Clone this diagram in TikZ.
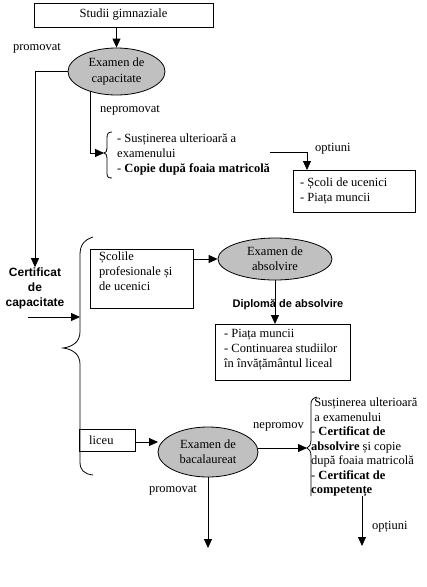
\documentclass[tikz,border=0pt]{standalone}
\usepackage{fontspec}
\setmainfont{Liberation Serif}
\newfontfamily\arialf{Liberation Sans}
\usetikzlibrary{shapes.geometric,arrows.meta,calc}
\definecolor{ellgray}{RGB}{192,192,192}
\tikzset{
  arr/.style={-{Triangle[length=9pt,width=8pt]}, line width=0.8pt},
  ln/.style={line width=0.8pt},
  rectbox/.style={draw, line width=0.8pt, inner sep=0pt},
  ell/.style={ellipse, draw, line width=0.8pt, fill=ellgray, inner sep=0pt, align=center},
  txt/.style={inner sep=0pt, align=left},
  lbl/.style={inner sep=0pt},
  bl/.style={inner sep=0pt, align=center, font=\arialf\bfseries\fontsize{11}{15}\selectfont},
}
\begin{document}
\begin{tikzpicture}[x=1pt,y=-1pt,font=\fontsize{12.5}{15}\selectfont]
\useasboundingbox (0,0) rectangle (427,587);
% top
\node[rectbox, minimum width=179, minimum height=24] (studii) at (123.5,15) {Studii gimnaziale};
\node[ell, minimum width=97, minimum height=47] (excap) at (116.5,71.5) {Examen de\\[1pt]capacitate};
\draw[arr] (studii.south -| excap.north) -- (excap.north);
\node[lbl] (lprom1) at (37,48) {promovat};
\node[bl, font=\arialf\bfseries\fontsize{12}{15}\selectfont] (cert) at (35,288) {Certificat\\de\\capacitate};
\draw[arr] (excap.west) -| (cert.north);
\node[lbl, anchor=west] (lneprom1) at (100,110) {nepromovat};
% brace 1
\coordinate (b1tip) at (104,153);
\coordinate (a1) at (90,91.2);
\draw[arr] (a1) |- (b1tip);
\draw[ln] (112,132) .. controls (108,132) and (107,134) .. (107,138) -- (107,148)
  .. controls (107,151) and (106,153) .. (104,153) .. controls (106,153) and (107,155) .. (107,158)
  -- (107,173) .. controls (107,177) and (108,178) .. (112,178);
\node[txt, anchor=north west] (t1) at (117,134) {- Susținerea ulterioară a\\ examenului\\- \textbf{Copie după foaia matricolă}};
\node[rectbox, minimum width=122, minimum height=42, anchor=north west] (box1) at (293,170) {};
\node[txt, anchor=west] (box1t) at (300,191) {- Școli de ucenici\\- Piața muncii};
\coordinate (o1s) at (270,152);
\draw[arr] (o1s) -| ($(box1.north west)+(14,0)$);
\node[lbl, anchor=west] (lopt1) at (315,149) {optiuni};
% big brace
\draw[ln] (93,237) .. controls (84,240) and (80,245) .. (80,255) -- (80,332)
  .. controls (80,342) and (72,347) .. (63,348) .. controls (72,349) and (80,354) .. (80,364)
  -- (80,462) .. controls (80,470) and (84,474) .. (93,475);
\coordinate (inarr) at (28,317);
\coordinate (inarrtip) at (80,317);
\draw[arr] (inarr) -- (inarrtip);
% school branch
\node[rectbox, minimum width=103, minimum height=59, anchor=north west] (school) at (90,249) {};
\node[txt, anchor=north west] (schoolt) at (99,252) {Școlile\\profesionale și\\de ucenici};
\node[ell, minimum width=114, minimum height=42] (absolv) at (275,259) {Examen de\\absolvire};
\draw[arr] (absolv.west -| school.east) -- (absolv.west);
\node[rectbox, minimum width=135, minimum height=56, anchor=north west] (piata) at (215,324) {};
\node[txt, anchor=north west] (piatat) at (224,329) {- Piața muncii\\- Continuarea studiilor\\în învățământul liceal};
\draw[arr] (absolv.south) -- (absolv.south |- piata.north);
\node[bl] (dipl) at (288,305) {Diplomă de absolvire};
% liceu branch
\node[rectbox, minimum width=56, minimum height=22, anchor=north west] (liceu) at (79,429) {};
\node[lbl, anchor=west] (liceut) at (89,440) {liceu};
\node[ell, minimum width=100, minimum height=50] (bac) at (208,452) {Examen de\\bacalaureat};
\draw[arr] (liceu.east |- 0,442) -- (158,442);
\node[lbl, anchor=west] (lneprom2) at (253,427) {nepromov};
\coordinate (b2tip) at (307,448);
\draw[arr] (bac.east |- b2tip) -- (b2tip);
% brace 2
\draw[ln] (317,397) .. controls (313,398) and (311,400) .. (311,404) -- (311,440)
  .. controls (311,445) and (309,447) .. (307,448) .. controls (309,449) and (311,451) .. (311,456)
  -- (311,496);
\node[txt, anchor=north west, font=\fontsize{12.5}{14.5}\selectfont] (t2) at (311,398)
  {~Susținerea ulterioară\\ ~a examenului\\- \textbf{Certificat de}\\\textbf{absolvire} și copie\\după foaia matricolă\\- \textbf{Certificat de}\\\textbf{competențe}};
\node[lbl] (lprom2) at (173,490) {promovat};
\coordinate (bacout) at (208,548);
\draw[arr] (bac.south) -- (bacout);
\coordinate (o2s) at (362,496);
\coordinate (o2e) at (362,546);
\draw[arr] (o2s) -- (o2e);
\node[lbl, anchor=west] (lopt2) at (372,527) {opțiuni};
\end{tikzpicture}
\end{document}
